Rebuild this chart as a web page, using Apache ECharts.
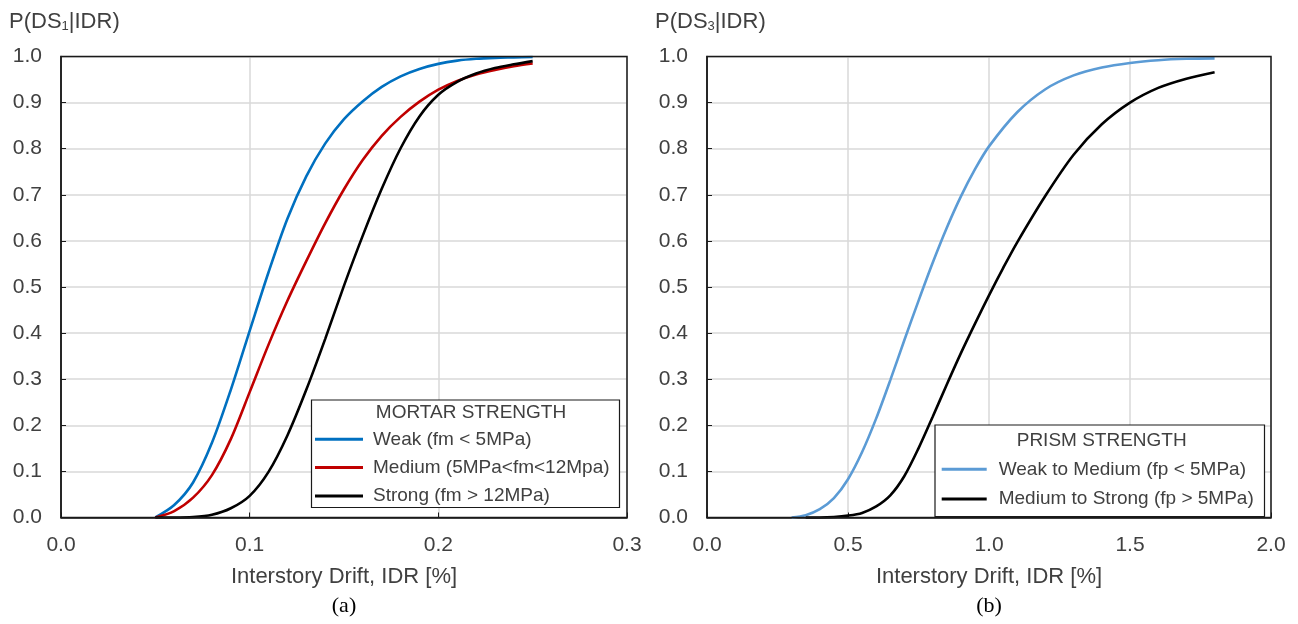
<!DOCTYPE html>
<html>
<head>
<meta charset="utf-8">
<style>
  html, body { margin: 0; padding: 0; background: #ffffff; }
  #chart { width: 1298px; height: 624px; }
</style>
<script src="https://cdn.jsdelivr.net/npm/echarts@6/dist/echarts.min.js"></script>
</head>
<body>
<div id="chart"></div>
<script>
// Panel (a): DS1 fragility curves by mortar strength
const driftA = [0.05, 0.06, 0.07, 0.08, 0.09, 0.10, 0.11, 0.12, 0.13, 0.14, 0.15,
                0.16, 0.17, 0.18, 0.19, 0.20, 0.21, 0.22, 0.23, 0.24, 0.25];
const mortarWeak   = [0.000, 0.027, 0.076, 0.162, 0.277, 0.405, 0.532, 0.648, 0.740, 0.811, 0.864,
                      0.903, 0.934, 0.957, 0.973, 0.984, 0.991, 0.995, 0.997, 0.998, 0.999];
const mortarMedium = [0.000, 0.014, 0.043, 0.092, 0.170, 0.272, 0.375, 0.470, 0.556, 0.638, 0.712,
                      0.776, 0.828, 0.869, 0.902, 0.928, 0.947, 0.961, 0.971, 0.979, 0.985];
const mortarStrong = [0.000, 0.000, 0.001, 0.006, 0.020, 0.047, 0.099, 0.178, 0.277, 0.387, 0.503,
                      0.612, 0.713, 0.801, 0.870, 0.917, 0.945, 0.963, 0.975, 0.983, 0.990];

// Panel (b): DS3 fragility curves by prism strength
const driftBWeak = [0.30, 0.35, 0.40, 0.45, 0.50, 0.55, 0.60, 0.65, 0.70, 0.75, 0.80, 0.85,
                    0.90, 0.95, 1.00, 1.10, 1.20, 1.30, 1.40, 1.50, 1.60, 1.70, 1.80];
const prismWeakMedium = [0.000, 0.005, 0.018, 0.042, 0.083, 0.142, 0.215, 0.298, 0.385, 0.470, 0.552, 0.628,
                         0.696, 0.755, 0.805, 0.879, 0.929, 0.959, 0.976, 0.986, 0.992, 0.995, 0.996];
const driftBStrong = [0.35, 0.40, 0.45, 0.50, 0.55, 0.60, 0.65, 0.70, 0.75, 0.80, 0.85, 0.90,
                      0.95, 1.00, 1.05, 1.10, 1.20, 1.30, 1.40, 1.50, 1.60, 1.70, 1.80];
const prismMediumStrong = [0.000, 0.000, 0.001, 0.004, 0.010, 0.024, 0.048, 0.090, 0.150, 0.218, 0.288, 0.356,
                           0.420, 0.482, 0.541, 0.597, 0.698, 0.787, 0.853, 0.900, 0.932, 0.952, 0.966];

const ticksA = { min: 0, max: 0.3, interval: 0.1 };
const ticksB = { min: 0, max: 2.0, interval: 0.5 };
const ticksY = { min: 0, max: 1.0, interval: 0.1 };

const namesA = ['Weak (fm < 5MPa)', 'Medium (5MPa<fm<12Mpa)', 'Strong (fm > 12MPa)'];
const namesB = ['Weak to Medium (fp < 5MPa)', 'Medium to Strong (fp > 5MPa)'];

const pairs = (xs, ys) => xs.map((x, i) => [x, ys[i]]);

const TEXT = '#404040';
const GRID = '#d9d9d9';
const FRAME = '#1a1a1a';
const SANS = '"Liberation Sans", Arial, sans-serif';

const plotA = { left: 61, top: 56.5, width: 566, height: 461 };
const plotB = { left: 707, top: 56.5, width: 564, height: 461 };

function xAxisFor(idx, t) {
  return {
    type: 'value', gridIndex: idx, min: t.min, max: t.max, interval: t.interval,
    name: 'Interstory Drift, IDR [%]', nameLocation: 'middle', nameGap: 48,
    nameTextStyle: { color: TEXT, fontSize: 22, fontFamily: SANS },
    axisLine: { show: true, onZero: false, lineStyle: { color: FRAME, width: 1.5 } },
    axisTick: { show: true, inside: true, length: 5, lineStyle: { color: FRAME, width: 1 } },
    axisLabel: { color: TEXT, fontSize: 21, fontFamily: SANS, margin: 17,
                 formatter: v => v.toFixed(1) },
    splitLine: { show: true, lineStyle: { color: GRID, width: 1.5 } }
  };
}
function yAxisFor(idx) {
  return {
    type: 'value', gridIndex: idx, min: ticksY.min, max: ticksY.max, interval: ticksY.interval,
    axisLine: { show: true, onZero: false, lineStyle: { color: FRAME, width: 1.5 } },
    axisTick: { show: true, inside: true, length: 5, lineStyle: { color: FRAME, width: 1 } },
    axisLabel: { color: TEXT, fontSize: 21, fontFamily: SANS, margin: 19,
                 formatter: v => v.toFixed(1) },
    splitLine: { show: true, lineStyle: { color: GRID, width: 1.5 } }
  };
}
function curve(name, idx, data, color) {
  return {
    type: 'line', name, xAxisIndex: idx, yAxisIndex: idx, data,
    symbol: 'none', smooth: 0.3,
    lineStyle: { color, width: 2.6 }, itemStyle: { color },
    z: 3
  };
}
function frame(p) {
  return { type: 'rect', z: 5, silent: true,
           shape: { x: p.left, y: p.top, width: p.width, height: p.height },
           style: { fill: 'none', stroke: FRAME, lineWidth: 1.5 } };
}

const chart = echarts.init(document.getElementById('chart'), null, { renderer: 'canvas' });

chart.setOption({
  animation: false,
  backgroundColor: '#ffffff',
  grid: [
    Object.assign({ show: false }, plotA),
    Object.assign({ show: false }, plotB)
  ],
  xAxis: [xAxisFor(0, ticksA), xAxisFor(1, ticksB)],
  yAxis: [yAxisFor(0), yAxisFor(1)],
  legend: [
    {
      data: namesA, orient: 'vertical', left: 315, top: 429.3, padding: 0, z: 20,
      icon: 'rect', itemWidth: 48, itemHeight: 3, itemGap: 8.3,
      textStyle: { color: TEXT, fontSize: 19, fontFamily: SANS, lineHeight: 20, padding: [0, 0, 0, 5] },
      selectedMode: false
    },
    {
      data: namesB, orient: 'vertical', left: 941.7, top: 459.3, padding: 0, z: 20,
      icon: 'rect', itemWidth: 45, itemHeight: 3, itemGap: 9.7,
      textStyle: { color: TEXT, fontSize: 19, fontFamily: SANS, lineHeight: 20, padding: [0, 0, 0, 7] },
      selectedMode: false
    }
  ],
  series: [
    curve(namesA[0], 0, pairs(driftA, mortarWeak), '#0070C0'),
    curve(namesA[1], 0, pairs(driftA, mortarMedium), '#C00000'),
    curve(namesA[2], 0, pairs(driftA, mortarStrong), '#000000'),
    curve(namesB[0], 1, pairs(driftBWeak, prismWeakMedium), '#5B9BD5'),
    curve(namesB[1], 1, pairs(driftBStrong, prismMediumStrong), '#000000')
  ],
  graphic: [
    // plot-area borders
    frame(plotA),
    frame(plotB),
    // legend frames
    { type: 'rect', z: 10, shape: { x: 311.5, y: 400, width: 308, height: 107.5 },
      style: { fill: '#ffffff', stroke: FRAME, lineWidth: 1.2 } },
    { type: 'rect', z: 10, shape: { x: 935, y: 425, width: 329.5, height: 91.5 },
      style: { fill: '#ffffff', stroke: FRAME, lineWidth: 1.2 } },
    { type: 'text', z: 21, x: 471, y: 412.7,
      style: { text: 'MORTAR STRENGTH', fill: TEXT, font: '19px ' + SANS, align: 'center', verticalAlign: 'middle' } },
    { type: 'text', z: 21, x: 1101.7, y: 440.7,
      style: { text: 'PRISM STRENGTH', fill: TEXT, font: '19px ' + SANS, align: 'center', verticalAlign: 'middle' } },
    // vertical axis titles
    { type: 'text', z: 21, x: 9, y: 22,
      style: { text: 'P(DS{sub|1}|IDR)', fill: TEXT, font: '22px ' + SANS, verticalAlign: 'middle',
               rich: { sub: { fontSize: 13, fontFamily: SANS, fill: TEXT, padding: [9, 0, 0, 0] } } } },
    { type: 'text', z: 21, x: 655, y: 22,
      style: { text: 'P(DS{sub|3}|IDR)', fill: TEXT, font: '22px ' + SANS, verticalAlign: 'middle',
               rich: { sub: { fontSize: 13, fontFamily: SANS, fill: TEXT, padding: [9, 0, 0, 0] } } } },
    // panel captions
    { type: 'text', z: 21, x: 344, y: 606,
      style: { text: '(a)', fill: '#000000', font: '22px "Liberation Serif", "Times New Roman", serif',
               align: 'center', verticalAlign: 'middle' } },
    { type: 'text', z: 21, x: 989, y: 606,
      style: { text: '(b)', fill: '#000000', font: '22px "Liberation Serif", "Times New Roman", serif',
               align: 'center', verticalAlign: 'middle' } }
  ]
});
</script>
</body>
</html>
